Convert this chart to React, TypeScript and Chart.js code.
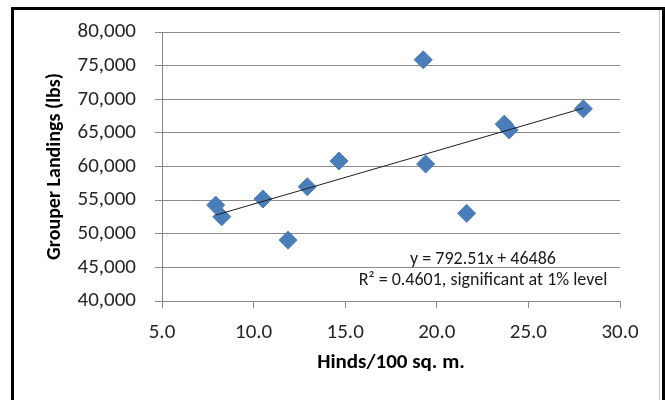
import React, { useEffect, useRef } from "react";
import { Chart, registerables } from "chart.js";

Chart.register(...registerables);

// ---- data ----
const hinds = [7.93, 8.26, 10.51, 11.88, 12.93, 14.66, 19.26, 19.39, 21.63, 23.68, 23.95, 28.0];
const landings = [54260, 52520, 55160, 49050, 56990, 60820, 75870, 60370, 53030, 66290, 65440, 68570];
const trendSlope = 792.51;
const trendIntercept = 46486;
const xTickValues = [5, 10, 15, 20, 25, 30];
const yTickValues = [40000, 45000, 50000, 55000, 60000, 65000, 70000, 75000, 80000];
const xTitle = "Hinds/100 sq. m.";
const yTitle = "Grouper Landings (lbs)";
const equationLines = ["y = 792.51x + 46486", "R\u00B2 = 0.4601, significant at 1% level"];

const FONT = "Carlito, Lato, 'Liberation Sans', sans-serif";

export default function App() {
  const ref = useRef<HTMLCanvasElement | null>(null);

  useEffect(() => {
    const canvas = ref.current;
    if (!canvas) return;

    const xMin = Math.min(...hinds);
    const xMax = Math.max(...hinds);
    const trend = [
      { x: xMin, y: trendSlope * xMin + trendIntercept },
      { x: xMax, y: trendSlope * xMax + trendIntercept },
    ];

    const decor = {
      id: "decor",
      beforeDraw(chart: any) {
        const ctx = chart.ctx;
        ctx.save();
        ctx.fillStyle = "#ffffff";
        ctx.fillRect(0, 0, chart.width, chart.height);
        ctx.restore();
      },
      afterDraw(chart: any) {
        const ctx = chart.ctx;
        const a = chart.chartArea;
        ctx.save();
        // equation annotation
        ctx.fillStyle = "#1a1a1a";
        ctx.font = `18px ${FONT}`;
        ctx.textAlign = "center";
        ctx.textBaseline = "alphabetic";
        const cx = a.left + 321;
        ctx.fillText(equationLines[0], cx, a.bottom - 37);
        ctx.fillText(equationLines[1], cx, a.bottom - 16.5);
        // thin grey inner border on the right
        ctx.strokeStyle = "#c8c8c8";
        ctx.lineWidth = 1;
        ctx.beginPath();
        ctx.moveTo(659.5, 9);
        ctx.lineTo(659.5, chart.height);
        ctx.stroke();
        // black outer frame
        ctx.strokeStyle = "#000000";
        ctx.lineWidth = 3;
        ctx.strokeRect(12.5, 8.5, 651, chart.height + 10);
        ctx.restore();
      },
    };

    const chart = new Chart(canvas, {
      type: "scatter",
      data: {
        datasets: [
          {
            type: "line",
            data: trend,
            borderColor: "#1e1e1e",
            borderWidth: 1,
            pointRadius: 0,
            fill: false,
            order: 0,
          } as any,
          {
            type: "scatter",
            data: hinds.map((x, i) => ({ x, y: landings[i] })),
            pointStyle: "rectRot",
            pointRadius: 9,
            pointBackgroundColor: "#4A7EBB",
            pointBorderColor: "#4A7EBB",
            pointBorderWidth: 1,
            order: 1,
          },
        ],
      },
      options: {
        responsive: false,
        animation: false,
        devicePixelRatio: 1,
        layout: { padding: { left: 0, right: 45, top: 32, bottom: 0 } },
        plugins: {
          legend: { display: false },
          tooltip: { enabled: false },
        },
        scales: {
          x: {
            type: "linear",
            min: xTickValues[0],
            max: xTickValues[xTickValues.length - 1],
            afterBuildTicks: (s: any) => {
              s.ticks = xTickValues.map((v) => ({ value: v }));
            },
            afterFit: (s: any) => {
              s.height = 99;
            },
            grid: {
              drawOnChartArea: false,
              drawTicks: true,
              tickLength: 7,
              color: "#8a8a8a",
              lineWidth: 1,
            },
            border: { display: true, color: "#8a8a8a", width: 1 },
            ticks: {
              padding: 12,
              color: "#262626",
              font: { family: FONT, size: 21 },
              callback: (v: any) => Number(v).toFixed(1),
              maxRotation: 0,
              autoSkip: false,
            },
            title: {
              display: true,
              text: xTitle,
              color: "#000000",
              font: { family: FONT, size: 21, weight: "bold" },
              padding: { top: 0, bottom: 25 },
            },
          },
          y: {
            type: "linear",
            min: yTickValues[0],
            max: yTickValues[yTickValues.length - 1],
            afterBuildTicks: (s: any) => {
              s.ticks = yTickValues.map((v) => ({ value: v }));
            },
            afterFit: (s: any) => {
              s.width = 162;
            },
            grid: {
              drawOnChartArea: true,
              drawTicks: true,
              tickLength: 7,
              color: "#8a8a8a",
              lineWidth: 1,
            },
            border: { display: true, color: "#8a8a8a", width: 1 },
            ticks: {
              padding: 19,
              color: "#262626",
              font: { family: FONT, size: 21 },
              callback: (v: any) => Number(v).toLocaleString("en-US"),
              autoSkip: false,
            },
            title: {
              display: true,
              text: yTitle,
              color: "#000000",
              font: { family: FONT, size: 20, weight: "bold" },
              padding: { top: 43, bottom: 0 },
            },
          },
        },
      },
      plugins: [decor],
    });

    return () => chart.destroy();
  }, []);

  return (
    <div style={{ position: "fixed", left: 0, top: 0, width: 665, height: 400, background: "#fff" }}>
      <canvas ref={ref} width={665} height={400} style={{ display: "block", width: 665, height: 400 }} />
    </div>
  );
}
